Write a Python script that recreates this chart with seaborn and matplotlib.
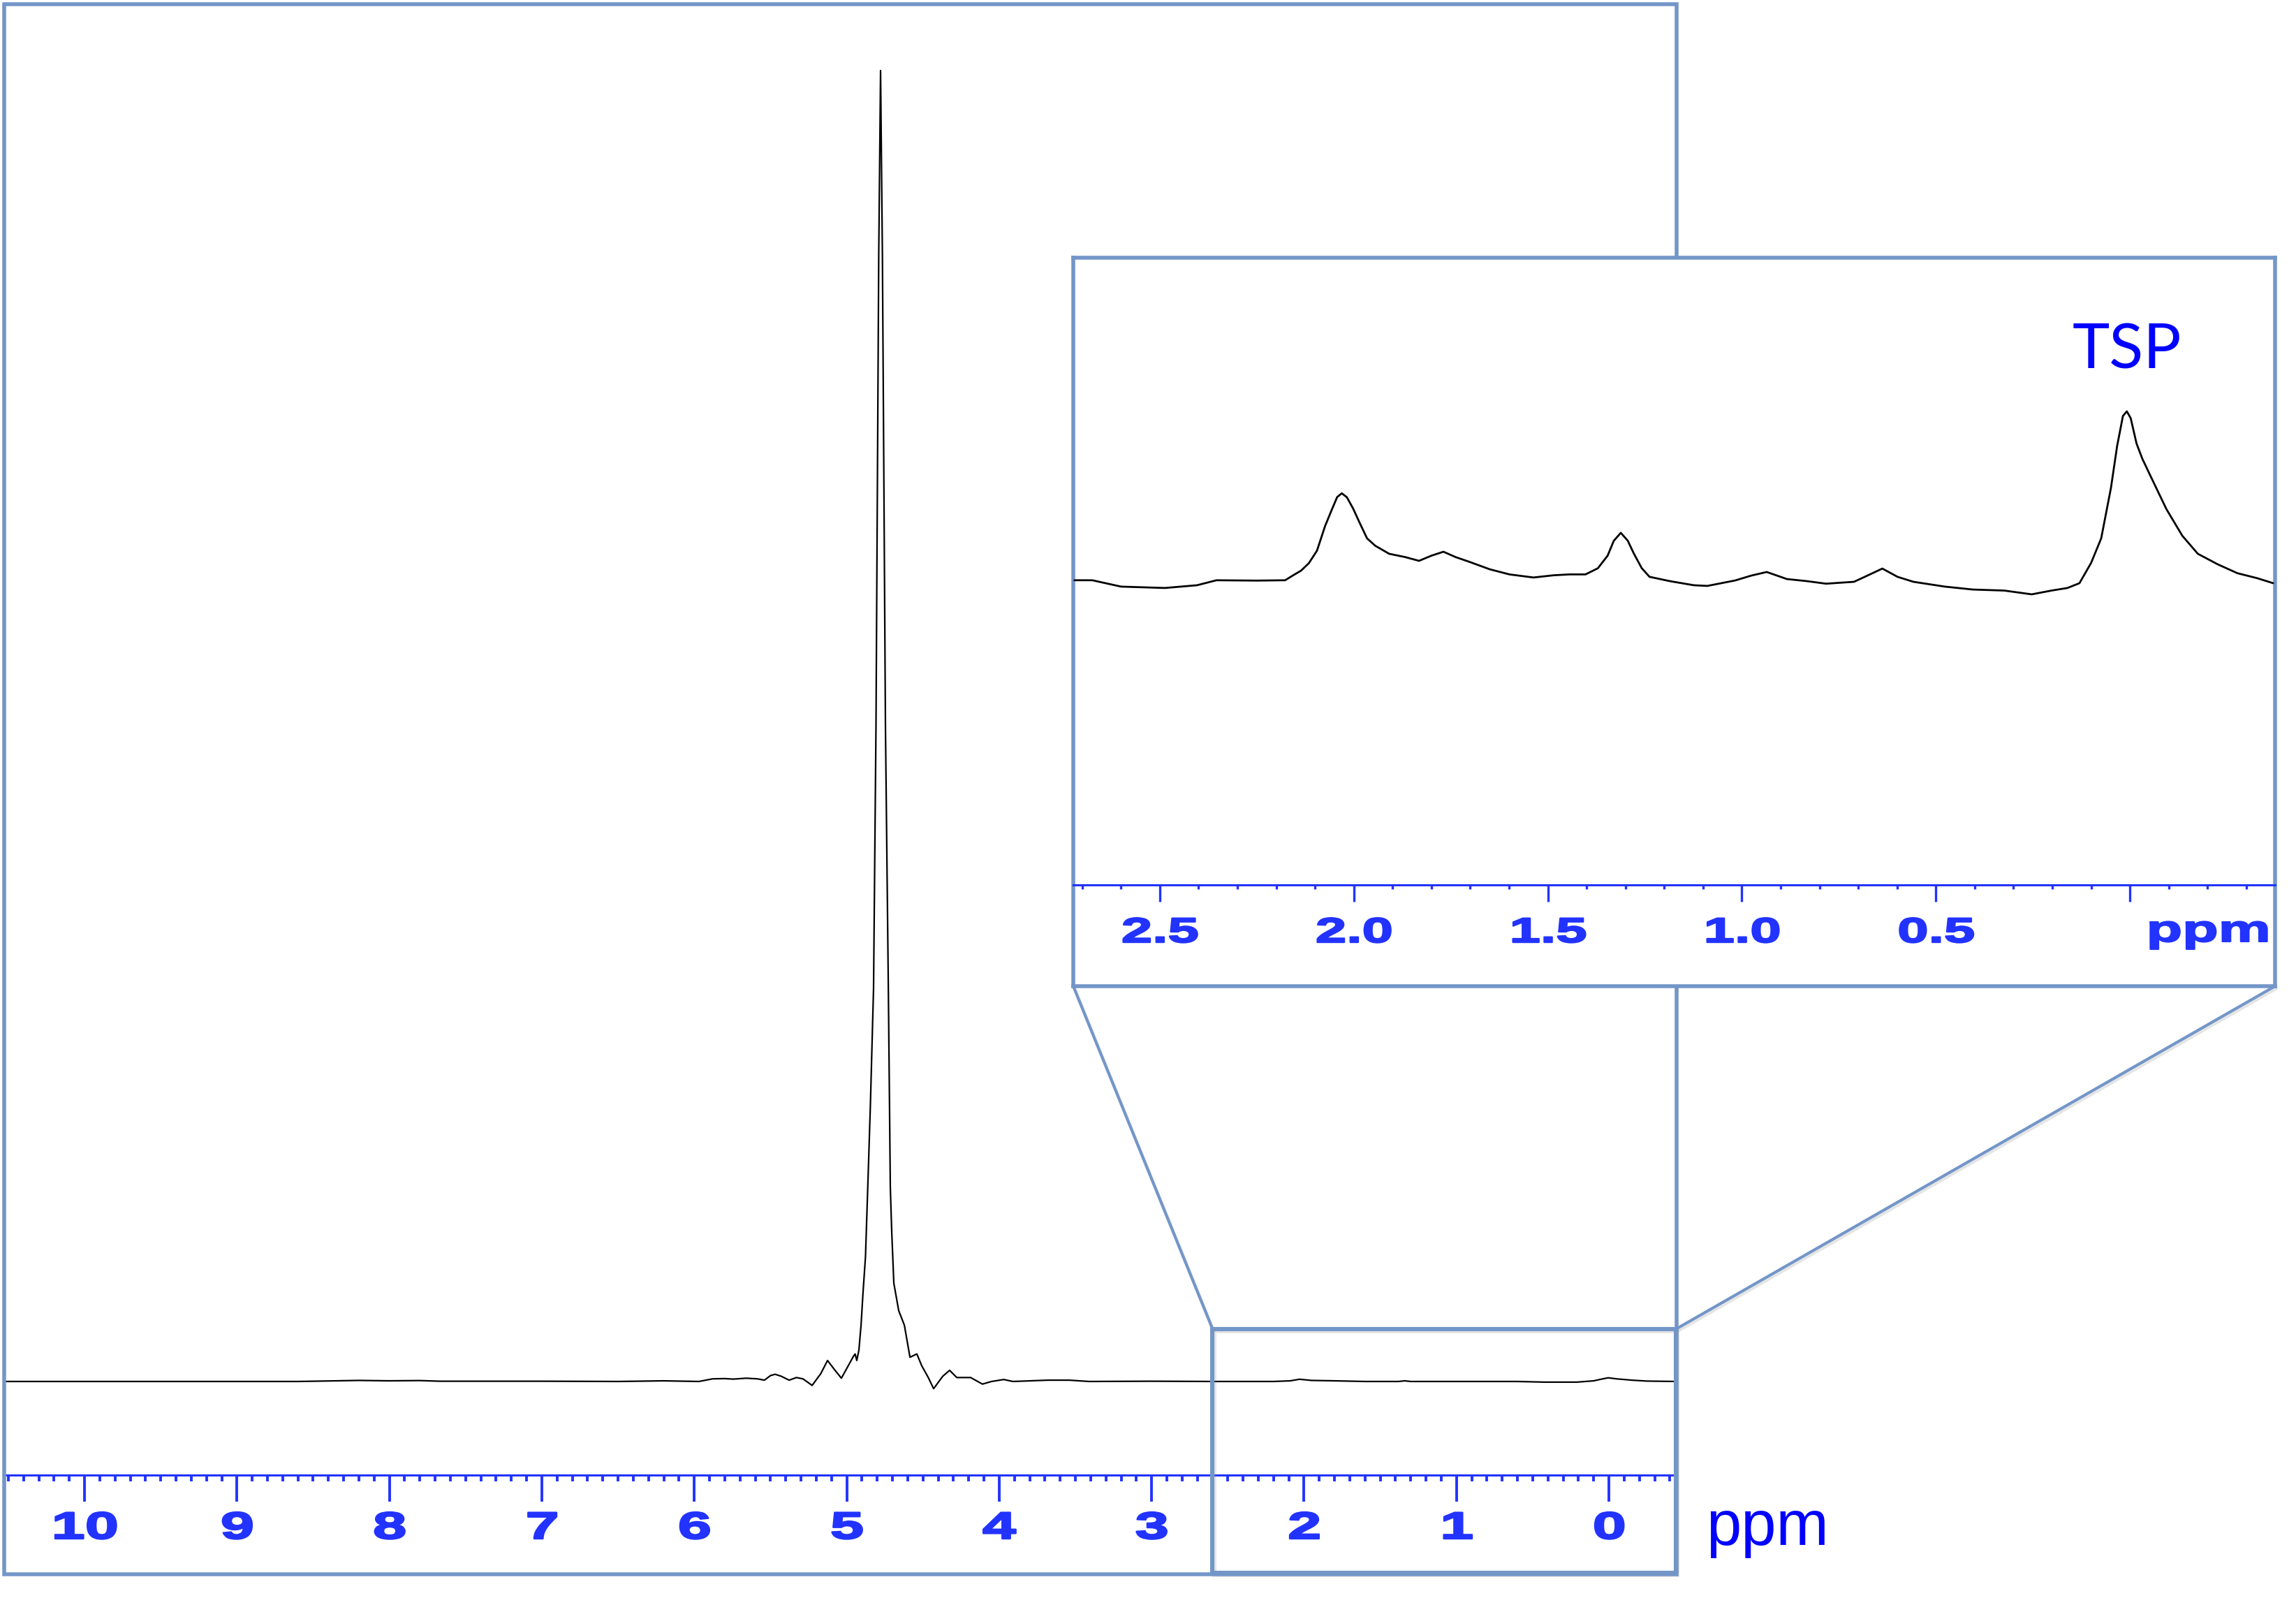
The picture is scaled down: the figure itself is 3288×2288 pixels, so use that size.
import pandas as pd
import matplotlib.pyplot as plt
import matplotlib.patheffects as pe
from matplotlib.patches import Rectangle, ConnectionPatch
from matplotlib.ticker import MultipleLocator
from matplotlib.transforms import Affine2D
import seaborn as sns

# full 1H spectrum (ppm, intensity with water peak = 100)
main_ppm = [10.52, 9.5, 8.6, 8.35, 8.2, 8.0, 7.8, 7.67, 7.0, 6.5, 6.2, 5.97, 5.88, 5.80, 5.745,
            5.66, 5.585, 5.54, 5.50, 5.47, 5.43, 5.378, 5.33, 5.287, 5.227, 5.17, 5.126, 5.08,
            5.035, 4.99, 4.957, 4.945, 4.934, 4.92, 4.906, 4.893, 4.877, 4.862, 4.845, 4.824,
            4.808, 4.798, 4.790, 4.778, 4.766, 4.757, 4.746, 4.727, 4.714, 4.705, 4.691, 4.659,
            4.622, 4.585, 4.540, 4.508, 4.465, 4.430, 4.37, 4.325, 4.278, 4.187, 4.11, 4.05,
            3.97, 3.91, 3.68, 3.54, 3.41, 3.0, 2.6, 2.2, 2.09, 2.03, 1.95, 1.8, 1.6, 1.38, 1.34,
            1.30, 1.0, 0.6, 0.42, 0.21, 0.10, 0.04, 0.005, -0.05, -0.15, -0.25, -0.44]
main_int = [0, 0, 0, 0.05, 0.08, 0.05, 0.07, 0.02, 0.02, 0.0, 0.05, 0.0, 0.2, 0.22, 0.18,
            0.25, 0.2, 0.1, 0.45, 0.55, 0.4, 0.1, 0.3, 0.2, -0.3, 0.6, 1.6, 0.9,
            0.25, 1.2, 1.9, 2.1, 1.6, 2.4, 4.3, 6.8, 9.5, 14.8, 21, 30,
            50, 70, 86, 100, 86, 70, 50, 30, 14.8, 11.5, 7.5, 5.4,
            4.3, 1.85, 2.1, 1.2, 0.3, -0.55, 0.4, 0.85, 0.3, 0.3, -0.2, 0.0,
            0.15, 0.0, 0.1, 0.1, 0.0, 0.02, 0.0, 0.0, 0.05, 0.17, 0.08, 0.05, 0.0, 0.0, 0.05,
            0.0, 0.0, 0.0, -0.05, -0.05, 0.05, 0.2, 0.28, 0.2, 0.1, 0.03, 0.0]

# expanded region (intensity with TSP peak = 100)
inset_ppm = [2.72, 2.674, 2.60, 2.487, 2.404, 2.354, 2.25, 2.177, 2.157, 2.136, 2.116, 2.095,
             2.074, 2.058, 2.043, 2.031, 2.018, 2.002, 1.986, 1.966, 1.945, 1.909, 1.868, 1.832,
             1.80, 1.769, 1.738, 1.702, 1.650, 1.599, 1.537, 1.485, 1.444, 1.403, 1.371, 1.346,
             1.330, 1.312, 1.294, 1.279, 1.258, 1.238, 1.186, 1.124, 1.089, 1.017, 0.976, 0.936,
             0.884, 0.833, 0.783, 0.711, 0.670, 0.638, 0.599, 0.558, 0.477, 0.405, 0.324, 0.253,
             0.202, 0.161, 0.130, 0.10, 0.074, 0.049, 0.033, 0.018, 0.008, -0.002, -0.017,
             -0.032, -0.053, -0.094, -0.135, -0.175, -0.226, -0.277, -0.328, -0.369]
inset_int = [1.7, 1.7, -2.0, -2.8, -1.2, 1.7, 1.5, 1.7, 4.5, 7.3, 11.6, 18.9,
             33.3, 42.1, 50.1, 52.3, 50.0, 43.5, 35.6, 26.1, 21.8, 17.1, 15.2, 13.0,
             16.0, 18.3, 15.2, 12.4, 8.1, 5.1, 3.3, 4.6, 5.1, 5.1, 8.7, 16.0,
             24.7, 29.3, 24.7, 17.5, 8.7, 3.7, 1.2, -1.2, -1.6, 1.6, 4.4, 6.5,
             2.4, 1.2, -0.3, 0.8, 5.1, 8.5, 3.7, 0.8, -2.0, -3.7, -4.3, -6.5,
             -4.3, -2.8, 0.0, 11.8, 26.1, 55.3, 79.8, 97.3, 100, 96, 81.3,
             72.4, 62.4, 43.1, 27.6, 17.1, 11.0, 5.8, 2.9, 0.0]

main_ticks = list(range(11))
main_labels = [str(t) for t in main_ticks]
inset_ticks = [2.5, 2.0, 1.5, 1.0, 0.5, 0.0]
inset_labels = ["2.5", "2.0", "1.5", "1.0", "0.5", ""]
zoom_span = (2.6, -0.44)

frame_blue = "#7396C8"
tick_blue = "#2233FF"
label_blue = "#0000FF"


class Stretch(pe.AbstractPathEffect):
    """Draw text wider (and a bit heavier) than the font, like the original labels."""
    def __init__(self, sx, lw=0.0):
        super().__init__()
        self.sx = sx
        self.lw = lw

    def draw_path(self, renderer, gc, tpath, affine, rgbFace=None):
        xs = tpath.vertices[:, 0]
        if len(xs) == 0:
            return
        cx = (xs.min() + xs.max()) / 2
        t = Affine2D().translate(-cx, 0).scale(self.sx, 1).translate(cx, 0)
        gc0 = renderer.new_gc()
        gc0.copy_properties(gc)
        gc0.set_linewidth(self.lw)
        gc0.set_foreground(rgbFace)
        gc0.set_joinstyle("round")
        renderer.draw_path(gc0, tpath, t + affine, rgbFace)
        gc0.restore()


sns.set_style("ticks")
plt.rcParams["font.family"] = ["Liberation Sans", "DejaVu Sans"]

W, H = 3288, 2288
fig = plt.figure(figsize=(W / 200, H / 200), dpi=200)


def box(x0, y0, x1, y1):
    return [x0 / W, 1 - y1 / H, (x1 - x0) / W, (y1 - y0) / H]


# --- full spectrum ---
ax = fig.add_axes(box(6, 6, 2401, 2112))
df_main = pd.DataFrame({"ppm": main_ppm, "intensity": main_int})
sns.lineplot(data=df_main, x="ppm", y="intensity", ax=ax, color="black", linewidth=0.8)
ax.set_xlim(10.527, -0.444)
ax.set_ylim(-7.14, 105.06)
ax.set(xlabel="", ylabel="")
ax.set_yticks([])
ax.set_xticks(main_ticks)
ax.set_xticklabels(main_labels)
ax.xaxis.set_minor_locator(MultipleLocator(0.1))
ax.tick_params(axis="x", which="major", direction="out", length=13.7, width=1.4,
               color=tick_blue, labelcolor=tick_blue, pad=5.0, labelsize=19.5)
ax.tick_params(axis="x", which="minor", direction="out", length=3.3, width=1.4, color=tick_blue)
for lbl in ax.get_xticklabels():
    lbl.set_fontweight("bold")
    lbl.set_path_effects([Stretch(1.6, 0.9)])
ax.spines[["left", "top", "right"]].set_visible(False)
ax.spines["bottom"].set_color(tick_blue)
ax.spines["bottom"].set_linewidth(1.1)
ax.patch.set_visible(False)
ax.text(1.0175, -0.0475, "ppm", transform=ax.transAxes, ha="left", va="baseline",
        color=label_blue, fontsize=32.5)

# zoom box marking the expanded region
shadow = [pe.SimpleLineShadow(offset=(0.8, -1.2), shadow_color="0.55", alpha=0.22), pe.Normal()]
zoom_top, zoom_bottom = 4.0, -14.6
ax.add_patch(Rectangle((zoom_span[0], zoom_bottom), zoom_span[1] - zoom_span[0],
                       zoom_top - zoom_bottom, fill=False, ec=frame_blue, lw=2.2,
                       clip_on=False, path_effects=shadow, zorder=5))

# outer frame of the full spectrum
fig.add_artist(Rectangle((6 / W, 1 - 2254 / H), 2395 / W, 2248 / H, transform=fig.transFigure,
                         fill=False, ec=frame_blue, lw=2.0, zorder=1))

# --- inset frame and expanded spectrum ---
axf = fig.add_axes(box(1537, 369, 3258, 1412), zorder=2)
axf.set_facecolor("white")
axf.set_xticks([])
axf.set_yticks([])
for s in axf.spines.values():
    s.set_color(frame_blue)
    s.set_linewidth(2.0)

axi = fig.add_axes(box(1537, 369, 3258, 1267), zorder=3)
axi.patch.set_visible(False)
df_inset = pd.DataFrame({"ppm": inset_ppm, "intensity": inset_int})
sns.lineplot(data=df_inset, x="ppm", y="intensity", ax=axi, color="black", linewidth=1.0)
axi.set_xlim(2.723, -0.374)
axi.set_ylim(-175.6, 189.4)
axi.set(xlabel="", ylabel="")
axi.set_yticks([])
axi.set_xticks(inset_ticks)
axi.set_xticklabels(inset_labels)
axi.xaxis.set_minor_locator(MultipleLocator(0.1))
axi.tick_params(axis="x", which="major", direction="out", length=8.6, width=1.2,
                color=tick_blue, labelcolor=tick_blue, pad=8.0, labelsize=18)
axi.tick_params(axis="x", which="minor", direction="out", length=2.3, width=1.2, color=tick_blue)
for lbl in axi.get_xticklabels():
    lbl.set_fontweight("bold")
    lbl.set_path_effects([Stretch(1.6, 0.8)])
axi.spines[["left", "top", "right"]].set_visible(False)
axi.spines["bottom"].set_color(tick_blue)
axi.spines["bottom"].set_linewidth(1.1)
axi.text(0.944, -0.0902, "ppm", transform=axi.transAxes, ha="center", va="baseline",
         color=tick_blue, fontsize=19, fontweight="bold", clip_on=False,
         path_effects=[Stretch(1.6, 0.8)])

i_tsp = df_inset["intensity"].idxmax()
axi.text(df_inset["ppm"][i_tsp], df_inset["intensity"][i_tsp] + 25, "TSP", ha="center",
         va="baseline", color=label_blue, fontsize=32.5, family=["Lato", "DejaVu Sans"])

# connector lines from the inset to the zoom box
for corner, xv in [((0, 0), zoom_span[0]), ((1, 0), zoom_span[1])]:
    con = ConnectionPatch(xyA=corner, coordsA=axf.transAxes, xyB=(xv, zoom_top),
                          coordsB=ax.transData, color=frame_blue, lw=1.5, zorder=1.5,
                          path_effects=shadow)
    fig.add_artist(con)

plt.savefig("out.png", dpi=200, facecolor="white")
